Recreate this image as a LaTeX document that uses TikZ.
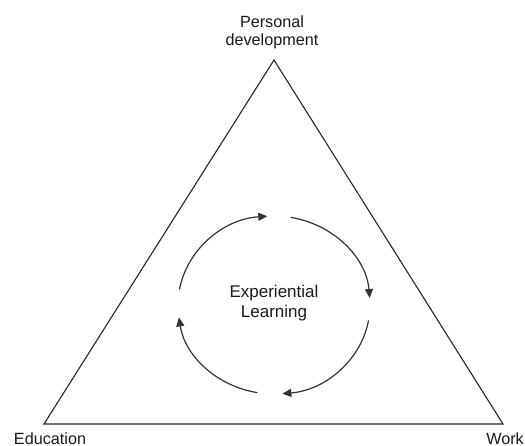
\documentclass[tikz,border=0pt]{standalone}
\usepackage{fontspec}
\setmainfont{Liberation Sans}
\usetikzlibrary{arrows.meta,calc}
\begin{document}
\begin{tikzpicture}[x=1pt,y=-1pt,
  edge/.style={line width=1.1pt,draw=black!85},
  cyc/.style={line width=1.2pt,draw=black!80,-{Triangle[length=9pt,width=8pt]}},
  lbl/.style={font=\fontsize{16.2}{18.7}\selectfont,text=black!90,inner sep=0pt},
  ctr/.style={font=\fontsize{17}{20}\selectfont,text=black!90,inner sep=0pt,align=center}]
\useasboundingbox (0,0) rectangle (525,446);
\coordinate (A) at (274,60);
\coordinate (B) at (44,424);
\coordinate (C) at (503,424);
\draw[edge,line join=miter] (A) -- (B) -- (C) -- cycle;
\node[lbl,align=center] (pd) at (272,32.3) {Personal\\development};
\node[lbl,anchor=base] (ed) at (50,444) {Education};
\node[lbl,anchor=base] (wk) at (505,444) {Work};
\node[ctr] (el) at (274,303) {Experiential\\Learning};
\coordinate (O) at (274,305);
\draw[cyc] ($(O)+(-170:96 and 89)$) arc[start angle=-170,end angle=-94,x radius=96,y radius=89];
\draw[cyc] ($(O)+(-80:96 and 89)$) arc[start angle=-80,end angle=-4.5,x radius=96,y radius=89];
\draw[cyc] ($(O)+(10:96 and 89)$) arc[start angle=10,end angle=85,x radius=96,y radius=89];
\draw[cyc] ($(O)+(100:96 and 89)$) arc[start angle=100,end angle=172,x radius=96,y radius=89];
\end{tikzpicture}
\end{document}
